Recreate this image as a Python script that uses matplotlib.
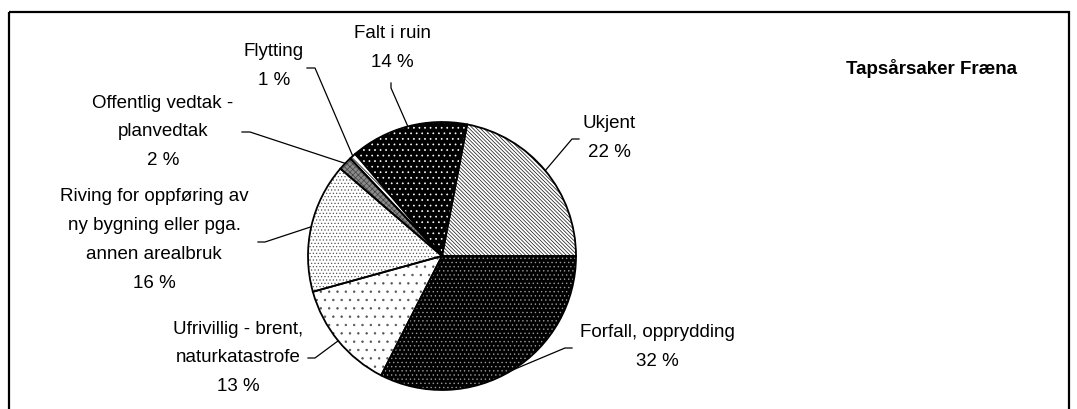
import matplotlib
matplotlib.use("Agg")
import matplotlib.pyplot as plt
from matplotlib.patches import Rectangle
import numpy as np

plt.rcParams['font.family'] = ['Liberation Sans', 'DejaVu Sans']
plt.rcParams['hatch.linewidth'] = 0.5

# data (andel i %, lest av figuren)
labels = ["Ukjent", "Falt i ruin", "Flytting", "Offentlig vedtak -\nplanvedtak",
          "Riving for oppføring av\nny bygning eller pga.\nannen arealbruk",
          "Ufrivillig - brent,\nnaturkatastrofe", "Forfall, opprydding"]
values = [22.0, 14.2, 0.8, 1.7, 15.6, 13.2, 32.5]
pct_text = ["22 %", "14 %", "1 %", "2 %", "16 %", "13 %", "32 %"]
title = "Tapsårsaker Fræna"

# stil per sektor
face_colors = ["white", "black", "white", "#8a8a8a", "white", "white", "black"]
hatches = ["\\" * 9, "...", "\\" * 6, "xxxxxx", ".....", "..", "...."]
hatch_colors = ["#111111", "white", "black", "#444444", "#555555", "#555555", "#999999"]

# plassering (piksler)
cx, cy, r = 442, 256, 134
label_pos = [(609, 138), (392, 48), (274, 66), (163, 132), (154, 240), (238, 358), (657, 347)]
elbow = [((579, 139), (572, 139)), ((391, 83), (391, 88)), ((307, 68), (315, 68)),
         ((242, 132), (250, 132)), ((258, 242), (265, 242)), ((308, 358), (315, 358)),
         ((572, 348), (565, 348))]

fig = plt.figure(figsize=(10.77, 4.09), dpi=100)
ax = fig.add_axes([0, 0, 1, 1])

wedges, _ = ax.pie(values, center=(cx, cy), radius=r, startangle=0, counterclock=False,
                   colors=face_colors, frame=True, wedgeprops=dict(linewidth=0))
for w, h, hc in zip(wedges, hatches, hatch_colors):
    w.set_hatch(h)
    w.set_edgecolor(hc)
    w.set_linewidth(0)

outline, _ = ax.pie(values, center=(cx, cy), radius=r, startangle=0, counterclock=False,
                    frame=True, wedgeprops=dict(fill=False, edgecolor="black", linewidth=1.3))

ax.set_xlim(0, 1077)
ax.set_ylim(409, 0)
ax.axis('off')

for w, lab, pct, pos, el in zip(outline, labels, pct_text, label_pos, elbow):
    mid = np.deg2rad((w.theta1 + w.theta2) / 2)
    ex = cx + r * np.cos(mid)
    ey = cy + r * np.sin(mid)
    ax.plot([el[0][0], el[1][0], ex], [el[0][1], el[1][1], ey], color="black", lw=0.9)
    ax.text(pos[0], pos[1], lab + "\n" + pct, ha="center", va="center",
            fontsize=13.5, linespacing=1.9, multialignment="center")

ax.text(931, 69, title, ha="center", va="center", fontsize=13.5, fontweight="bold")

ax.add_patch(Rectangle((8.5, 11.5), 1060, 430, fill=False, edgecolor="black", lw=1.6, clip_on=False))

fig.savefig("out.png", dpi=100)
